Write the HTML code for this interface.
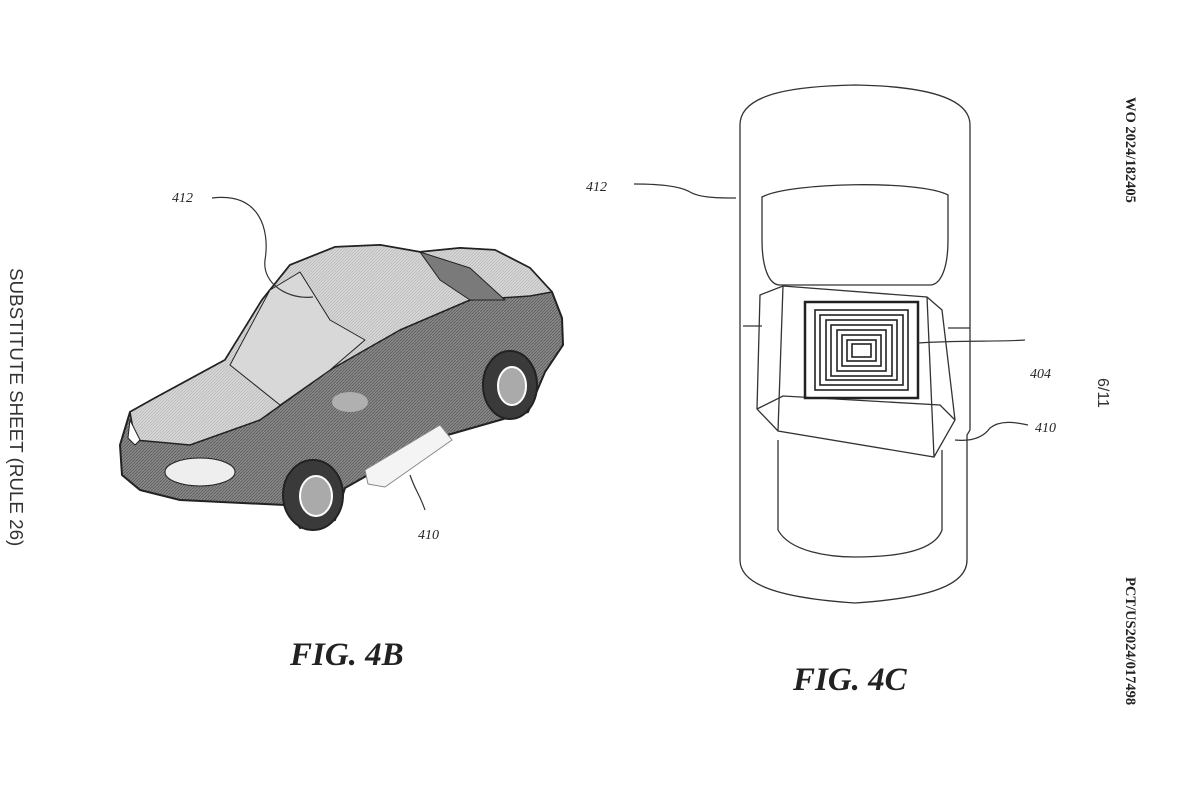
<!DOCTYPE html>
<html><head><meta charset="utf-8"><style>
html,body{margin:0;padding:0;background:#fff;}
svg{display:block}
</style></head><body>
<svg width="1200" height="800" viewBox="0 0 1200 800" xmlns="http://www.w3.org/2000/svg">
<defs>
<pattern id="ht" width="3" height="3" patternUnits="userSpaceOnUse"><rect width="3" height="3" fill="#8a8a8a"/><path d="M0 3L3 0" stroke="#5a5a5a" stroke-width="0.8"/></pattern>
<pattern id="hl" width="3" height="3" patternUnits="userSpaceOnUse"><rect width="3" height="3" fill="#d6d6d6"/><path d="M0 3L3 0" stroke="#b0b0b0" stroke-width="0.6"/></pattern>
</defs>
<!-- FIG 4B car -->
<g stroke="#222" stroke-width="2" stroke-linejoin="round">
<path d="M120 445 L130 412 L155 398 L225 360 L262 300 L290 265 L335 247 L380 245 L420 252 L460 248 L495 250 L530 268 L552 292 L562 318 L563 345 L545 372 L528 412 L500 420 L430 440 L345 488 L335 520 L300 528 L285 505 L180 500 L140 490 L122 475 Z" fill="url(#ht)"/>
<path d="M130 412 L155 398 L225 360 L262 300 L290 265 L335 247 L380 245 L420 252 L460 248 L495 250 L530 268 L552 292 L530 296 L470 300 L400 330 L330 370 L260 420 L190 445 L135 440 Z" fill="url(#hl)" stroke-width="1.5"/>
<path d="M230 365 L270 290 L300 272 L330 320 L365 340 L330 370 L280 405 Z" fill="#d8d8d8" stroke-width="1"/>
<path d="M420 252 L470 268 L505 300 L470 300 L440 280 Z" fill="#7a7a7a" stroke-width="1"/>
<ellipse cx="350" cy="402" rx="18" ry="10" fill="#b0b0b0" stroke="none"/>
<ellipse cx="200" cy="472" rx="35" ry="14" fill="#eee" stroke-width="1"/>
<path d="M130 420 L140 440 L135 445 L128 438 Z" fill="#fff" stroke-width="1"/>
<ellipse cx="510" cy="385" rx="27" ry="34" fill="#3a3a3a"/>
<ellipse cx="512" cy="386" rx="14" ry="19" fill="#aaa" stroke="#fff" stroke-width="2"/>
<ellipse cx="313" cy="495" rx="30" ry="35" fill="#3a3a3a"/>
<ellipse cx="316" cy="496" rx="16" ry="20" fill="#aaa" stroke="#fff" stroke-width="2"/>
<path d="M365 470 L440 425 L452 440 L385 487 L368 484 Z" fill="#f4f4f4" stroke="#888" stroke-width="1"/>
</g>
<path d="M212 198 C260 192 270 230 265 260 C262 285 290 300 313 297" fill="none" stroke="#333" stroke-width="1.2"/>
<path d="M410 475 C415 490 420 495 425 510" fill="none" stroke="#333" stroke-width="1.2"/>
<!-- FIG 4C top view -->
<g fill="none" stroke="#333" stroke-width="1.3">
<path d="M740 430 L740 125 C740 92 800 86 855 85 C915 86 970 95 970 125 L970 430 L967 435 L967 560 C967 585 930 598 855 603 C780 598 740 585 740 560 L740 435 Z"/>
<path d="M762 197 C790 182 920 180 948 195 L948 240 C948 270 940 285 930 285 L780 285 C768 285 762 265 762 240 Z"/>
<path d="M778 440 L778 530 C790 552 830 557 855 557 C900 557 935 550 942 530 L942 450"/>
<path d="M760 295 L783 286 L927 297 L942 310 L955 420 L934 457 L778 431 L757 409 Z"/>
<path d="M783 286 L778 431 M927 297 L934 457 M757 409 L783 396 L940 405 L955 420"/>
<path d="M743 326 L762 326 M948 328 L970 328"/>
</g>
<g fill="none" stroke="#222" stroke-width="1.6">
<rect x="805" y="302" width="113" height="96" stroke-width="2.5"/>
<rect x="815" y="310" width="93" height="80"/>
<rect x="820" y="315" width="83" height="70"/>
<rect x="826" y="320" width="71" height="60"/>
<rect x="831" y="325" width="61" height="51"/>
<rect x="837" y="330" width="49" height="41"/>
<rect x="842" y="335" width="39" height="31"/>
<rect x="847" y="340" width="29" height="21"/>
<rect x="852" y="344" width="19" height="13"/>
</g>
<g fill="none" stroke="#333" stroke-width="1.2">
<path d="M634 184 C660 184 680 186 690 192 C700 198 720 198 736 198"/>
<path d="M918 343 C960 340 1000 342 1025 340"/>
<path d="M955 440 C975 442 985 435 990 428 C1000 420 1015 422 1028 425"/>
</g>
<g font-family="Liberation Serif, serif" font-style="italic" font-size="14" fill="#222">
<text x="172" y="202">412</text>
<text x="418" y="539">410</text>
<text x="586" y="191">412</text>
<text x="1030" y="378">404</text>
<text x="1035" y="432">410</text>
</g>
<g font-family="Liberation Serif, serif" font-style="italic" font-weight="bold" font-size="33" fill="#222">
<text x="290" y="665">FIG. 4B</text>
<text x="793" y="690">FIG. 4C</text>
</g>
<text transform="translate(10,268) rotate(90)" font-family="Liberation Sans, sans-serif" font-size="18.8" fill="#333">SUBSTITUTE SHEET (RULE 26)</text>
<text transform="translate(1126,97) rotate(90)" font-family="Liberation Serif, serif" font-weight="bold" font-size="14.5" fill="#222">WO 2024/182405</text>
<text transform="translate(1098,378) rotate(90)" font-family="Liberation Sans, sans-serif" font-size="16" fill="#333">6/11</text>
<text transform="translate(1126,577) rotate(90)" font-family="Liberation Serif, serif" font-weight="bold" font-size="14.5" fill="#222">PCT/US2024/017498</text>
</svg>
</body></html>
